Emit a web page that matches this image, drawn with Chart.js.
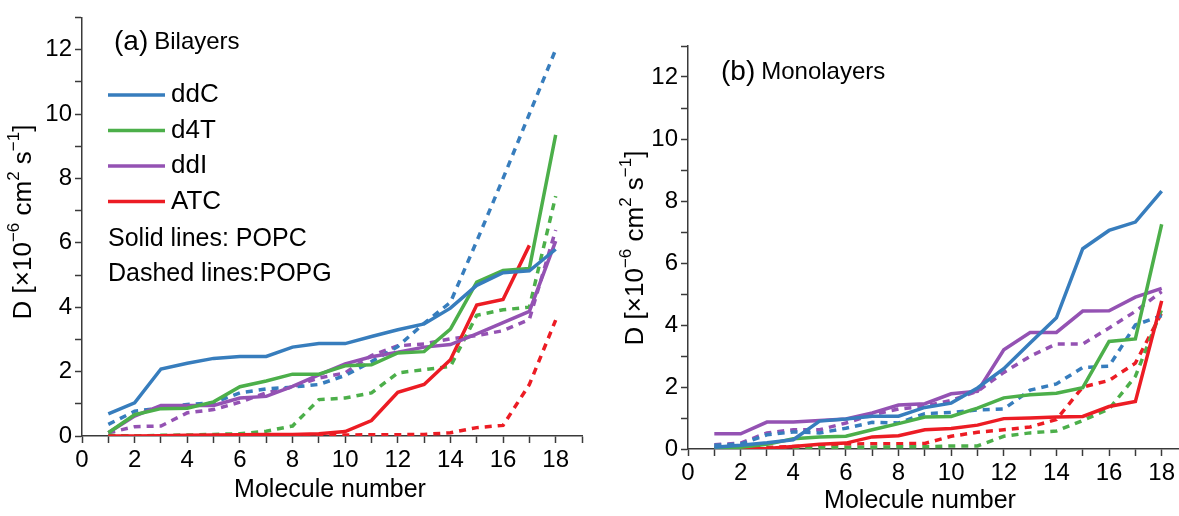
<!DOCTYPE html>
<html>
<head>
<meta charset="utf-8">
<script src="https://cdn.jsdelivr.net/npm/chart.js@4.4.1/dist/chart.umd.min.js"></script>
<style>
  html, body { margin: 0; padding: 0; background: #fff; overflow: hidden; width: 1179px; height: 516px; }
  canvas { position: absolute; top: 0; }
  #bilayer { left: 0; }
  #monolayer { left: 600px; }
</style>
</head>
<body>
<canvas id="bilayer" width="610" height="516"></canvas>
<canvas id="monolayer" width="600" height="530"></canvas>
<script>
const FONT = '"Liberation Sans", Arial, sans-serif';

const molecules = [1, 2, 3, 4, 5, 6, 7, 8, 9, 10, 11, 12, 13, 14, 15, 16, 17, 18];
const drugs = ['ddC', 'd4T', 'ddI', 'ATC'];
const drugColors = ['#377dbd', '#4caf4a', '#9452b3', '#ec1c24'];

// (a) bilayers, solid = POPC, dashed = POPG
const biDdcPopc = [0.69, 1.03, 2.08, 2.26, 2.41, 2.47, 2.47, 2.76, 2.87, 2.87, 3.09, 3.3, 3.48, 3.97, 4.68, 5.07, 5.13, 5.8];
const biD4tPopc = [0.1, 0.66, 0.85, 0.86, 1.06, 1.53, 1.71, 1.92, 1.92, 2.18, 2.21, 2.58, 2.62, 3.32, 4.78, 5.14, 5.2, 9.35];
const biDdiPopc = [0.1, 0.62, 0.95, 0.95, 0.95, 1.18, 1.23, 1.54, 1.9, 2.24, 2.46, 2.6, 2.76, 2.84, 3.17, 3.52, 3.87, 6.05];
const biAtcPopc = [0, 0, 0.01, 0.02, 0.03, 0.04, 0.05, 0.05, 0.07, 0.14, 0.48, 1.36, 1.6, 2.37, 4.07, 4.24, 5.92, null];
const biDdcPopg = [0.36, 0.77, 0.87, 0.98, 1.03, 1.34, 1.46, 1.52, 1.6, 1.88, 2.31, 2.78, 3.5, 4.15, 6.05, 8.0, 10.0, 12.0];
const biD4tPopg = [0.02, 0, 0.02, 0.03, 0.05, 0.07, 0.15, 0.31, 1.13, 1.18, 1.34, 1.96, 2.06, 2.16, 3.75, 3.92, 4.0, 7.45];
const biDdiPopg = [0.1, 0.29, 0.31, 0.72, 0.82, 1.05, 1.34, 1.52, 1.8, 1.96, 2.5, 2.8, 2.86, 3.02, 3.12, 3.27, 3.62, 6.4];
const biAtcPopg = [0, 0, 0, 0.01, 0.01, 0.02, 0.02, 0.03, 0.03, 0.03, 0.04, 0.04, 0.05, 0.1, 0.26, 0.33, 1.6, 3.6];

// (b) monolayers
const monoDdcPopc = [0.06, 0.12, 0.2, 0.3, 0.9, 0.97, 1.06, 1.06, 1.34, 1.48, 1.97, 2.59, 3.42, 4.23, 6.46, 7.05, 7.32, 8.32];
const monoD4tPopc = [0.02, 0.06, 0.15, 0.33, 0.39, 0.41, 0.62, 0.82, 1.03, 1.05, 1.32, 1.65, 1.75, 1.8, 1.98, 3.47, 3.55, 7.25];
const monoDdiPopc = [0.49, 0.49, 0.87, 0.87, 0.92, 0.97, 1.16, 1.42, 1.46, 1.78, 1.86, 3.2, 3.76, 3.76, 4.45, 4.46, 4.9, 5.18];
const monoAtcPopc = [0, 0, 0.02, 0.08, 0.15, 0.19, 0.39, 0.43, 0.62, 0.66, 0.77, 0.98, 1.0, 1.03, 1.05, 1.37, 1.53, 4.78];
const monoDdcPopg = [0.12, 0.16, 0.46, 0.55, 0.52, 0.67, 0.86, 0.84, 1.14, 1.18, 1.26, 1.29, 1.9, 2.1, 2.63, 2.67, 4.0, 4.3];
const monoD4tPopg = [0, 0.01, 0.02, 0.03, 0.04, 0.05, 0.06, 0.07, 0.07, 0.1, 0.1, 0.41, 0.52, 0.58, 0.92, 1.29, 2.34, 4.5];
const monoDdiPopg = [0.14, 0.19, 0.52, 0.62, 0.62, 0.84, 1.1, 1.29, 1.38, 1.57, 1.86, 2.47, 2.99, 3.39, 3.39, 3.9, 4.44, 5.08];
const monoAtcPopg = [0.02, 0.02, 0.05, 0.08, 0.12, 0.16, 0.17, 0.17, 0.18, 0.41, 0.54, 0.62, 0.71, 0.95, 2.0, 2.21, 2.77, 4.39];

const xTicks = [0, 19];
const yTicks = [0, 13];
const xTitle = 'Molecule number';
const yTitleParts = [['D [\u00d710', 0], ['\u22126', 1], [' cm', 0], ['2', 1], [' s', 0], ['\u22121', 1], [']', 0]];
const notes = ['Solid lines: POPC', 'Dashed lines:POPG'];

function pairs(vals) {
  return molecules.map((m, i) => ({ x: m, y: vals[i] })).filter(p => p.y !== null);
}

function drawYTitle(ctx, cx, cy) {
  ctx.save();
  ctx.translate(cx, cy);
  ctx.rotate(-Math.PI / 2);
  ctx.textAlign = 'left';
  ctx.textBaseline = 'middle';
  let total = 0;
  yTitleParts.forEach(p => {
    ctx.font = (p[1] ? '17px ' : '26px ') + FONT;
    total += ctx.measureText(p[0]).width;
  });
  let x = -total / 2;
  yTitleParts.forEach(p => {
    ctx.font = (p[1] ? '17px ' : '26px ') + FONT;
    ctx.fillText(p[0], x, p[1] ? -10 : 0);
    x += ctx.measureText(p[0]).width;
  });
  ctx.restore();
}

const panelText = {
  id: 'panelText',
  afterDraw(chart, args, opts) {
    const ctx = chart.ctx;
    ctx.save();
    ctx.fillStyle = '#000';
    ctx.textBaseline = 'middle';
    ctx.textAlign = 'left';
    ctx.font = '28px ' + FONT;
    ctx.fillText(opts.tag, opts.tagPos[0], opts.tagPos[1]);
    const w = ctx.measureText(opts.tag).width + 6;
    ctx.font = '24px ' + FONT;
    ctx.fillText(opts.name, opts.tagPos[0] + w, opts.tagPos[1]);

    if (opts.legend) {
      const L = opts.legend;
      chart.data.datasets.filter(d => d.inLegend).forEach((d, i) => {
        const y = L.y + i * L.step;
        ctx.strokeStyle = d.borderColor;
        ctx.lineWidth = 3.5;
        ctx.beginPath();
        ctx.moveTo(L.x, y);
        ctx.lineTo(L.x + L.len, y);
        ctx.stroke();
        ctx.font = '26px ' + FONT;
        ctx.fillText(d.legendText, L.x + L.len + 6, y);
      });
      ctx.font = '25px ' + FONT;
      notes.forEach((t, j) => ctx.fillText(t, L.x, L.y + (4 + j) * L.step + 2));
    }

    ctx.textAlign = 'center';
    ctx.font = '25px ' + FONT;
    ctx.fillText(xTitle, opts.xTitlePos[0], opts.xTitlePos[1]);
    drawYTitle(ctx, opts.yTitlePos[0], opts.yTitlePos[1]);
    ctx.restore();
  }
};

function axis(min, max, fit) {
  return {
    type: 'linear',
    min: min,
    max: max,
    border: { color: '#3a3a3a', width: 1.5 },
    grid: { drawOnChartArea: false, tickLength: 7, color: '#3a3a3a', tickWidth: 1.5 },
    ticks: {
      stepSize: 1,
      autoSkip: false,
      maxRotation: 0,
      padding: 3,
      color: '#000',
      font: { family: FONT, size: 24 },
      callback: v => (v % 2 === 0 ? v : '')
    },
    afterFit: fit
  };
}

function makeChart(id, series, panel) {
  const datasets = [];
  series.forEach((s, i) => {
    datasets.push({
      label: drugs[i] + ' POPC', legendText: drugs[i], inLegend: true,
      data: pairs(s[0]), borderColor: drugColors[i], borderWidth: 3.5,
      pointRadius: 0, fill: false, tension: 0
    });
  });
  series.forEach((s, i) => {
    datasets.push({
      label: drugs[i] + ' POPG', data: pairs(s[1]), borderColor: drugColors[i],
      borderWidth: 3.5, borderDash: [7, 6], pointRadius: 0, fill: false, tension: 0
    });
  });

  return new Chart(document.getElementById(id), {
    type: 'line',
    data: { datasets: datasets },
    plugins: [panelText],
    options: {
      responsive: false,
      animation: false,
      devicePixelRatio: 1,
      layout: { padding: { top: panel.top, right: panel.right, left: 0, bottom: 0 } },
      scales: {
        x: axis(xTicks[0], xTicks[1], s => { s.height = panel.xAxisHeight; }),
        y: axis(yTicks[0], yTicks[1], s => { s.width = panel.yAxisWidth; })
      },
      plugins: {
        legend: { display: false },
        tooltip: { enabled: false },
        panelText: panel.text
      }
    }
  });
}

makeChart('bilayer', [
  [biDdcPopc, biDdcPopg],
  [biD4tPopc, biD4tPopg],
  [biDdiPopc, biDdiPopg],
  [biAtcPopc, biAtcPopg]
], {
  top: 15, right: 28, yAxisWidth: 82, xAxisHeight: 80,
  text: {
    tag: '(a)', name: 'Bilayers', tagPos: [114, 42],
    legend: { x: 108, y: 95, step: 35.5, len: 57 },
    xTitlePos: [330, 490], yTitlePos: [24, 222]
  }
});

makeChart('monolayer', [
  [monoDdcPopc, monoDdcPopg],
  [monoD4tPopc, monoD4tPopg],
  [monoDdiPopc, monoDdiPopg],
  [monoAtcPopc, monoAtcPopg]
], {
  top: 46, right: 12, yAxisWidth: 88, xAxisHeight: 81,
  text: {
    tag: '(b)', name: 'Monolayers', tagPos: [121, 72],
    xTitlePos: [320, 501], yTitlePos: [36, 248]
  }
});
</script>
</body>
</html>
